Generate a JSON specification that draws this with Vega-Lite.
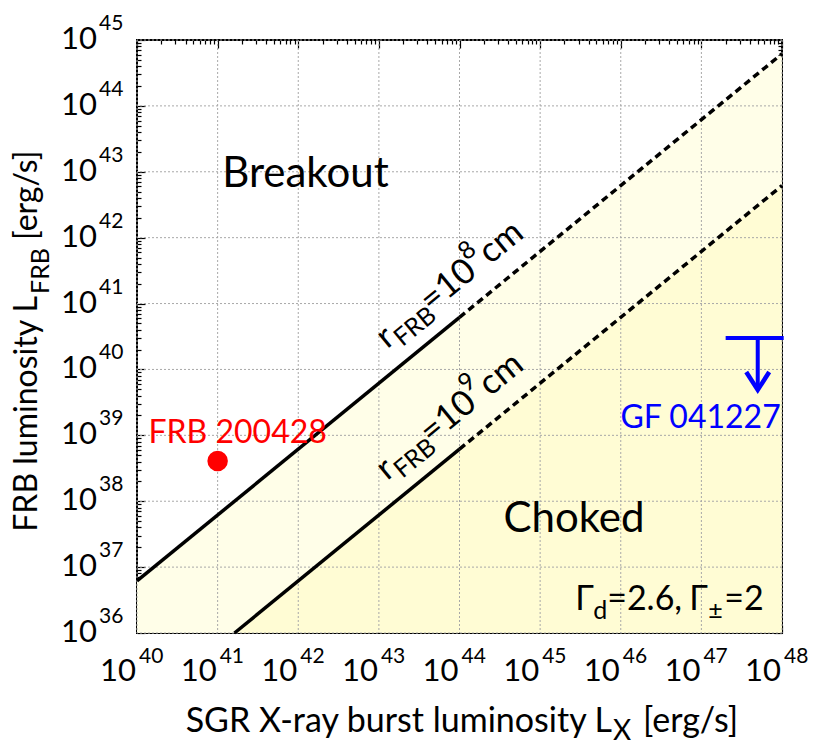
{
  "$schema": "https://vega.github.io/schema/vega-lite/v6.json",
  "width": 645,
  "height": 593,
  "autosize": {"type": "none"},
  "padding": {"left": 137, "top": 40, "right": 48, "bottom": 118},
  "background": "white",
  "config": {
    "view": {"stroke": "black", "strokeWidth": 2},
    "font": "Lato",
    "text": {"font": "Lato", "color": "black"}
  },
  "datasets": {
    "band": [
      {"lx": 1e40, "hi": 6.17e36, "lo": 1e36},
      {"lx": 1.62e41, "hi": 1e38, "lo": 1e36},
      {"lx": 1e48, "hi": 6.17e44, "lo": 6.17e42}
    ],
    "lower": [
      {"lx": 1.62e41, "hi": 1e36, "lo": 1e36},
      {"lx": 1e48, "hi": 6.17e42, "lo": 1e36}
    ],
    "lines": [
      {"curve": "r8", "part": "solid", "lx": 1e40, "lfrb": 6.17e36},
      {"curve": "r8", "part": "solid", "lx": 1e44, "lfrb": 6.17e40},
      {"curve": "r8", "part": "dashed", "lx": 1e44, "lfrb": 6.17e40},
      {"curve": "r8", "part": "dashed", "lx": 1e48, "lfrb": 6.17e44},
      {"curve": "r9", "part": "solid", "lx": 1.62e41, "lfrb": 1e36},
      {"curve": "r9", "part": "solid", "lx": 1e44, "lfrb": 6.17e38},
      {"curve": "r9", "part": "dashed", "lx": 1e44, "lfrb": 6.17e38},
      {"curve": "r9", "part": "dashed", "lx": 1e48, "lfrb": 6.17e42}
    ],
    "frb": [{"name": "FRB 200428", "lx": 1e41, "lfrb": 4.07e38}],
    "gf": [{"name": "GF 041227", "lx": 5e47, "lfrb": 3e40, "lfrb_tip": 4.9e39}],
    "xlab": [
      {"v": 1e40, "e": "40"}, {"v": 1e41, "e": "41"}, {"v": 1e42, "e": "42"},
      {"v": 1e43, "e": "43"}, {"v": 1e44, "e": "44"}, {"v": 1e45, "e": "45"},
      {"v": 1e46, "e": "46"}, {"v": 1e47, "e": "47"}, {"v": 1e48, "e": "48"}
    ],
    "ylab": [
      {"v": 1e36, "e": "36"}, {"v": 1e37, "e": "37"}, {"v": 1e38, "e": "38"},
      {"v": 1e39, "e": "39"}, {"v": 1e40, "e": "40"}, {"v": 1e41, "e": "41"},
      {"v": 1e42, "e": "42"}, {"v": 1e43, "e": "43"}, {"v": 1e44, "e": "44"},
      {"v": 1e45, "e": "45"}
    ]
  },
  "layer": [
    {
      "data": {"name": "band"},
      "mark": {"type": "area", "fill": "#fffee8", "opacity": 1},
      "encoding": {
        "x": {
          "field": "lx", "type": "quantitative",
          "scale": {"type": "log", "domain": [1e40, 1e48], "nice": false},
          "axis": {
            "orient": "bottom", "labels": false, "domain": false, "title": null, "grid": false,
            "values": [1e40,2e40,3e40,4e40,5e40,6e40,7e40,8e40,9e40,1e41,2e41,3e41,4e41,5e41,6e41,7e41,8e41,9e41,1e42,2e42,3e42,4e42,5e42,6e42,7e42,8e42,9e42,1e43,2e43,3e43,4e43,5e43,6e43,7e43,8e43,9e43,1e44,2e44,3e44,4e44,5e44,6e44,7e44,8e44,9e44,1e45,2e45,3e45,4e45,5e45,6e45,7e45,8e45,9e45,1e46,2e46,3e46,4e46,5e46,6e46,7e46,8e46,9e46,1e47,2e47,3e47,4e47,5e47,6e47,7e47,8e47,9e47,1e48],
            "ticks": true, "tickColor": "black", "tickWidth": 1.2,
            "tickSize": {"condition": {"test": "abs(log(datum.value)/LN10 - round(log(datum.value)/LN10)) < 0.001", "value": -8}, "value": -4}
          }
        },
        "y": {
          "field": "hi", "type": "quantitative",
          "scale": {"type": "log", "domain": [1e36, 1e45], "nice": false},
          "axis": {
            "orient": "left", "labels": false, "domain": false, "title": null, "grid": false,
            "values": [1e36,2e36,3e36,4e36,5e36,6e36,7e36,8e36,9e36,1e37,2e37,3e37,4e37,5e37,6e37,7e37,8e37,9e37,1e38,2e38,3e38,4e38,5e38,6e38,7e38,8e38,9e38,1e39,2e39,3e39,4e39,5e39,6e39,7e39,8e39,9e39,1e40,2e40,3e40,4e40,5e40,6e40,7e40,8e40,9e40,1e41,2e41,3e41,4e41,5e41,6e41,7e41,8e41,9e41,1e42,2e42,3e42,4e42,5e42,6e42,7e42,8e42,9e42,1e43,2e43,3e43,4e43,5e43,6e43,7e43,8e43,9e43,1e44,2e44,3e44,4e44,5e44,6e44,7e44,8e44,9e44,1e45],
            "ticks": true, "tickColor": "black", "tickWidth": 1.2,
            "tickSize": {"condition": {"test": "abs(log(datum.value)/LN10 - round(log(datum.value)/LN10)) < 0.001", "value": -8}, "value": -4}
          }
        },
        "y2": {"field": "lo"}
      }
    },
    {
      "data": {"name": "lower"},
      "mark": {"type": "area", "fill": "#fffcd4", "opacity": 1},
      "encoding": {
        "x": {
          "field": "lx", "type": "quantitative",
          "axis": {
            "orient": "top", "labels": false, "domain": false, "title": null, "grid": false,
            "values": [1e40,2e40,3e40,4e40,5e40,6e40,7e40,8e40,9e40,1e41,2e41,3e41,4e41,5e41,6e41,7e41,8e41,9e41,1e42,2e42,3e42,4e42,5e42,6e42,7e42,8e42,9e42,1e43,2e43,3e43,4e43,5e43,6e43,7e43,8e43,9e43,1e44,2e44,3e44,4e44,5e44,6e44,7e44,8e44,9e44,1e45,2e45,3e45,4e45,5e45,6e45,7e45,8e45,9e45,1e46,2e46,3e46,4e46,5e46,6e46,7e46,8e46,9e46,1e47,2e47,3e47,4e47,5e47,6e47,7e47,8e47,9e47,1e48],
            "ticks": true, "tickColor": "black", "tickWidth": 1.2,
            "tickSize": {"condition": {"test": "abs(log(datum.value)/LN10 - round(log(datum.value)/LN10)) < 0.001", "value": -8}, "value": -4}
          }
        },
        "y": {
          "field": "hi", "type": "quantitative",
          "axis": {
            "orient": "right", "labels": false, "domain": false, "title": null, "grid": false,
            "values": [1e36,2e36,3e36,4e36,5e36,6e36,7e36,8e36,9e36,1e37,2e37,3e37,4e37,5e37,6e37,7e37,8e37,9e37,1e38,2e38,3e38,4e38,5e38,6e38,7e38,8e38,9e38,1e39,2e39,3e39,4e39,5e39,6e39,7e39,8e39,9e39,1e40,2e40,3e40,4e40,5e40,6e40,7e40,8e40,9e40,1e41,2e41,3e41,4e41,5e41,6e41,7e41,8e41,9e41,1e42,2e42,3e42,4e42,5e42,6e42,7e42,8e42,9e42,1e43,2e43,3e43,4e43,5e43,6e43,7e43,8e43,9e43,1e44,2e44,3e44,4e44,5e44,6e44,7e44,8e44,9e44,1e45],
            "ticks": true, "tickColor": "black", "tickWidth": 1.2,
            "tickSize": {"condition": {"test": "abs(log(datum.value)/LN10 - round(log(datum.value)/LN10)) < 0.001", "value": -8}, "value": -4}
          }
        },
        "y2": {"field": "lo"}
      }
    },
    {
      "data": {"name": "xlab"},
      "mark": {"type": "rule", "color": "#a8a8a8", "strokeWidth": 1, "strokeDash": [2, 2]},
      "encoding": {"x": {"field": "v", "type": "quantitative", "axis": null}}
    },
    {
      "data": {"name": "ylab"},
      "mark": {"type": "rule", "color": "#a8a8a8", "strokeWidth": 1, "strokeDash": [2, 2]},
      "encoding": {"y": {"field": "v", "type": "quantitative", "axis": null}}
    },
    {
      "data": {"name": "lines"},
      "transform": [{"filter": "datum.part === 'solid'"}],
      "mark": {"type": "line", "color": "black", "strokeWidth": 3.5, "strokeCap": "butt"},
      "encoding": {
        "x": {"field": "lx", "type": "quantitative", "axis": null},
        "y": {"field": "lfrb", "type": "quantitative", "axis": null},
        "detail": {"field": "curve"}
      }
    },
    {
      "data": {"name": "lines"},
      "transform": [{"filter": "datum.part === 'dashed'"}],
      "mark": {"type": "line", "color": "black", "strokeWidth": 3.5, "strokeCap": "butt", "strokeDash": [7, 4.5]},
      "encoding": {
        "x": {"field": "lx", "type": "quantitative", "axis": null},
        "y": {"field": "lfrb", "type": "quantitative", "axis": null},
        "detail": {"field": "curve"}
      }
    },
    {
      "data": {"name": "frb"},
      "mark": {"type": "point", "filled": true, "color": "#ff0000", "size": 420, "opacity": 1},
      "encoding": {
        "x": {"field": "lx", "type": "quantitative", "axis": null},
        "y": {"field": "lfrb", "type": "quantitative", "axis": null}
      }
    },
    {
      "data": {"name": "frb"},
      "mark": {"type": "text", "color": "#ff0000", "fontSize": 32, "align": "center", "baseline": "alphabetic", "dx": 20, "dy": -18},
      "encoding": {
        "x": {"field": "lx", "type": "quantitative", "axis": null},
        "y": {"field": "lfrb", "type": "quantitative", "axis": null},
        "text": {"field": "name"}
      }
    },
    {
      "data": {"name": "gf"},
      "mark": {"type": "rule", "color": "#0000ff", "strokeWidth": 4},
      "encoding": {
        "x": {"datum": 2e47, "axis": null},
        "x2": {"datum": 1.05e48},
        "y": {"field": "lfrb", "type": "quantitative", "axis": null}
      }
    },
    {
      "data": {"name": "gf"},
      "mark": {"type": "rule", "color": "#0000ff", "strokeWidth": 4},
      "encoding": {
        "x": {"field": "lx", "type": "quantitative", "axis": null},
        "y": {"field": "lfrb", "type": "quantitative", "axis": null},
        "y2": {"field": "lfrb_tip"}
      }
    },
    {
      "data": {"name": "gf"},
      "mark": {"type": "point", "shape": "M -1 -1.55 L 0 0 L 1 -1.55", "filled": false, "stroke": "#0000ff", "strokeWidth": 4.5, "size": 529, "opacity": 1, "strokeJoin": "miter"},
      "encoding": {
        "x": {"field": "lx", "type": "quantitative", "axis": null},
        "y": {"field": "lfrb_tip", "type": "quantitative", "axis": null}
      }
    },
    {
      "data": {"name": "gf"},
      "mark": {"type": "text", "color": "#0000ff", "fontSize": 32, "align": "right", "baseline": "alphabetic", "dx": 23, "dy": 90},
      "encoding": {
        "x": {"field": "lx", "type": "quantitative", "axis": null},
        "y": {"field": "lfrb", "type": "quantitative", "axis": null},
        "text": {"field": "name"}
      }
    },
    {
      "data": {"values": [{"label": "Breakout"}]},
      "mark": {"type": "text", "fontSize": 42, "align": "center", "baseline": "alphabetic"},
      "encoding": {
        "x": {"datum": 1.23e42, "axis": null},
        "y": {"datum": 5.93e42, "axis": null},
        "text": {"field": "label"}
      }
    },
    {
      "data": {"values": [{"label": "Choked"}]},
      "mark": {"type": "text", "fontSize": 42, "align": "center", "baseline": "alphabetic"},
      "encoding": {
        "x": {"datum": 2.63e45, "axis": null},
        "y": {"datum": 3.44e37, "axis": null},
        "text": {"field": "label"}
      }
    },
    {
      "data": {"values": [{"t": "Γ"}]},
      "mark": {"type": "text", "fontSize": 34, "align": "left", "baseline": "alphabetic"},
      "encoding": {"x": {"datum": 2.72e45, "axis": null}, "y": {"datum": 2.23e36, "axis": null}, "text": {"field": "t"}}
    },
    {
      "data": {"values": [{"t": "d"}]},
      "mark": {"type": "text", "fontSize": 25, "align": "left", "baseline": "alphabetic", "dx": 18, "dy": 9},
      "encoding": {"x": {"datum": 2.72e45, "axis": null}, "y": {"datum": 2.23e36, "axis": null}, "text": {"field": "t"}}
    },
    {
      "data": {"values": [{"t": "=2.6,"}]},
      "mark": {"type": "text", "fontSize": 34, "align": "left", "baseline": "alphabetic", "dx": 32},
      "encoding": {"x": {"datum": 2.72e45, "axis": null}, "y": {"datum": 2.23e36, "axis": null}, "text": {"field": "t"}}
    },
    {
      "data": {"values": [{"t": "Γ"}]},
      "mark": {"type": "text", "fontSize": 34, "align": "left", "baseline": "alphabetic", "dx": 114},
      "encoding": {"x": {"datum": 2.72e45, "axis": null}, "y": {"datum": 2.23e36, "axis": null}, "text": {"field": "t"}}
    },
    {
      "data": {"values": [{"t": "±"}]},
      "mark": {"type": "text", "fontSize": 25, "align": "left", "baseline": "alphabetic", "dx": 133, "dy": 9},
      "encoding": {"x": {"datum": 2.72e45, "axis": null}, "y": {"datum": 2.23e36, "axis": null}, "text": {"field": "t"}}
    },
    {
      "data": {"values": [{"t": "=2"}]},
      "mark": {"type": "text", "fontSize": 34, "align": "left", "baseline": "alphabetic", "dx": 149},
      "encoding": {"x": {"datum": 2.72e45, "axis": null}, "y": {"datum": 2.23e36, "axis": null}, "text": {"field": "t"}}
    },
    {
      "data": {"values": [{"t": "r", "c": 6.17e39}, {"t": "r", "c": 6.17e37}]},
      "mark": {"type": "text", "fontSize": 34, "align": "left", "baseline": "alphabetic", "angle": 320.74, "dx": 28, "dy": -21},
      "encoding": {"x": {"datum": 1e43, "axis": null}, "y": {"field": "c", "type": "quantitative", "axis": null}, "text": {"field": "t"}}
    },
    {
      "data": {"values": [{"t": "FRB", "c": 6.17e39}, {"t": "FRB", "c": 6.17e37}]},
      "mark": {"type": "text", "fontSize": 25, "align": "left", "baseline": "alphabetic", "angle": 320.74, "dx": 41, "dy": -13},
      "encoding": {"x": {"datum": 1e43, "axis": null}, "y": {"field": "c", "type": "quantitative", "axis": null}, "text": {"field": "t"}}
    },
    {
      "data": {"values": [{"t": "=10", "c": 6.17e39}, {"t": "=10", "c": 6.17e37}]},
      "mark": {"type": "text", "fontSize": 35, "align": "left", "baseline": "alphabetic", "angle": 320.74, "dx": 85, "dy": -21},
      "encoding": {"x": {"datum": 1e43, "axis": null}, "y": {"field": "c", "type": "quantitative", "axis": null}, "text": {"field": "t"}}
    },
    {
      "data": {"values": [{"t": "8", "c": 6.17e39}, {"t": "9", "c": 6.17e37}]},
      "mark": {"type": "text", "fontSize": 25, "align": "left", "baseline": "alphabetic", "angle": 320.74, "dx": 145, "dy": -39},
      "encoding": {"x": {"datum": 1e43, "axis": null}, "y": {"field": "c", "type": "quantitative", "axis": null}, "text": {"field": "t"}}
    },
    {
      "data": {"values": [{"t": "cm", "c": 6.17e39}, {"t": "cm", "c": 6.17e37}]},
      "mark": {"type": "text", "fontSize": 35, "align": "left", "baseline": "alphabetic", "angle": 320.74, "dx": 161, "dy": -21},
      "encoding": {"x": {"datum": 1e43, "axis": null}, "y": {"field": "c", "type": "quantitative", "axis": null}, "text": {"field": "t"}}
    },
    {
      "data": {"name": "xlab"},
      "mark": {"type": "text", "text": "10", "fontSize": 31, "align": "right", "baseline": "alphabetic", "dx": -1, "dy": 48},
      "encoding": {"x": {"field": "v", "type": "quantitative", "axis": null}, "y": {"datum": 1e36, "axis": null}}
    },
    {
      "data": {"name": "xlab"},
      "mark": {"type": "text", "fontSize": 21, "align": "left", "baseline": "alphabetic", "dx": 2, "dy": 30},
      "encoding": {"x": {"field": "v", "type": "quantitative", "axis": null}, "y": {"datum": 1e36, "axis": null}, "text": {"field": "e"}}
    },
    {
      "data": {"name": "ylab"},
      "mark": {"type": "text", "text": "10", "fontSize": 31, "align": "right", "baseline": "alphabetic", "dx": -40, "dy": 9},
      "encoding": {"x": {"datum": 1e40, "axis": null}, "y": {"field": "v", "type": "quantitative", "axis": null}}
    },
    {
      "data": {"name": "ylab"},
      "mark": {"type": "text", "fontSize": 21, "align": "left", "baseline": "alphabetic", "dx": -38, "dy": -10},
      "encoding": {"x": {"datum": 1e40, "axis": null}, "y": {"field": "v", "type": "quantitative", "axis": null}, "text": {"field": "e"}}
    },
    {
      "data": {"values": [{"t": "SGR X-ray burst luminosity L"}]},
      "mark": {"type": "text", "fontSize": 34, "align": "right", "baseline": "alphabetic", "dx": 475, "dy": 99},
      "encoding": {"x": {"datum": 1e40, "axis": null}, "y": {"datum": 1e36, "axis": null}, "text": {"field": "t"}}
    },
    {
      "data": {"values": [{"t": "X"}]},
      "mark": {"type": "text", "fontSize": 28, "align": "left", "baseline": "alphabetic", "dx": 476, "dy": 107},
      "encoding": {"x": {"datum": 1e40, "axis": null}, "y": {"datum": 1e36, "axis": null}, "text": {"field": "t"}}
    },
    {
      "data": {"values": [{"t": "[erg/s]"}]},
      "mark": {"type": "text", "fontSize": 34, "align": "left", "baseline": "alphabetic", "dx": 506, "dy": 99},
      "encoding": {"x": {"datum": 1e40, "axis": null}, "y": {"datum": 1e36, "axis": null}, "text": {"field": "t"}}
    },
    {
      "data": {"values": [{"t": "FRB luminosity L"}]},
      "mark": {"type": "text", "fontSize": 32, "align": "right", "baseline": "alphabetic", "angle": 270, "dx": 337, "dy": -100},
      "encoding": {"x": {"datum": 1e40, "axis": null}, "y": {"datum": 1e36, "axis": null}, "text": {"field": "t"}}
    },
    {
      "data": {"values": [{"t": "FRB"}]},
      "mark": {"type": "text", "fontSize": 25, "align": "left", "baseline": "alphabetic", "angle": 270, "dx": 339, "dy": -88},
      "encoding": {"x": {"datum": 1e40, "axis": null}, "y": {"datum": 1e36, "axis": null}, "text": {"field": "t"}}
    },
    {
      "data": {"values": [{"t": "[erg/s]"}]},
      "mark": {"type": "text", "fontSize": 32, "align": "left", "baseline": "alphabetic", "angle": 270, "dx": 393, "dy": -100},
      "encoding": {"x": {"datum": 1e40, "axis": null}, "y": {"datum": 1e36, "axis": null}, "text": {"field": "t"}}
    }
  ],
  "resolve": {"axis": {"x": "independent", "y": "independent"}}
}
